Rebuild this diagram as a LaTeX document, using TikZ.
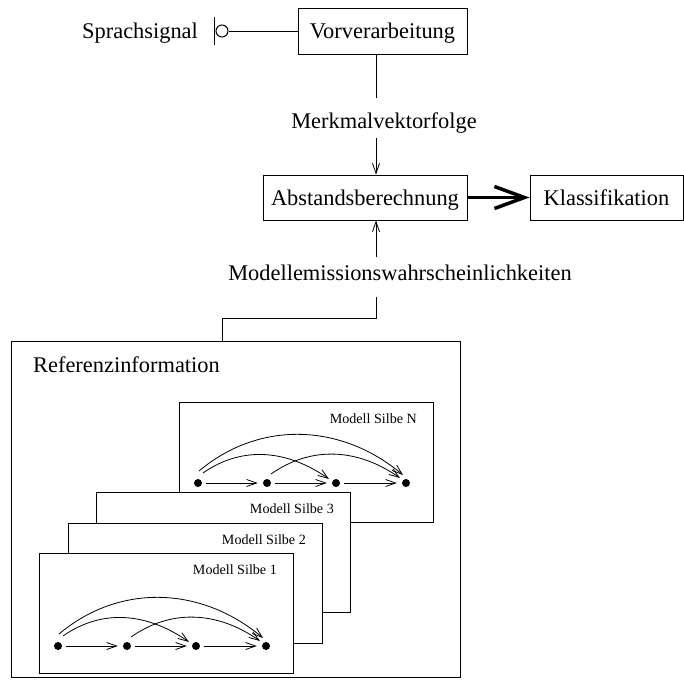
\documentclass[tikz,border=0pt]{standalone}
\usepackage{fontspec}
\setmainfont{Liberation Serif}
\usetikzlibrary{arrows.meta}
\tikzset{
  big/.style={font=\fontsize{22.4}{26}\selectfont},
  small/.style={font=\fontsize{14.1}{17}\selectfont},
  box/.style={draw, line width=1pt, big, inner sep=0pt, text height=18pt, text depth=3pt},
  mbox/.style={draw, fill=white, line width=1pt, minimum width=254pt, minimum height=120pt, inner sep=0pt},
  dot/.style={circle, fill, inner sep=0pt, minimum size=8pt},
  arr/.style={-{Straight Barb[length=10pt,width=7pt]}, line width=0.8pt},
  conn/.style={line width=1pt},
  fat/.style={-{Straight Barb[length=30pt,width=22pt]}, line width=3.5pt},
  lbl/.style={big, inner sep=0pt},
}
\newcommand{\silbebox}[4]{%
  \begin{scope}[shift={(#2,-#3)}]
    \node[mbox] (#1) at (127,-60) {};
    \node[small, anchor=base east, inner sep=0pt] (#1-l) at (238,-21) {Modell Silbe #4};
  \end{scope}}
\newcommand{\silbekette}[4]{%
  \begin{scope}[shift={(#2,-#3)}]
    \node[dot] (#1-a) at (19,-#4) {};
    \node[dot] (#1-b) at (88,-#4) {};
    \node[dot] (#1-c) at (157,-#4) {};
    \node[dot] (#1-d) at (227,-#4) {};
    \draw[arr, shorten <=4pt, shorten >=5pt] (#1-a) -- (#1-b);
    \draw[arr, shorten <=4pt, shorten >=5pt] (#1-b) -- (#1-c);
    \draw[arr, shorten <=4pt, shorten >=5pt] (#1-c) -- (#1-d);
    \draw[arr] ([shift={(1,12)}]#1-a.center) to[out=40,in=140] ([shift={(-3,8)}]#1-d.center);
    \draw[arr] ([shift={(5,10)}]#1-a.center) to[out=35,in=145] ([shift={(-7,4)}]#1-c.center);
    \draw[arr] ([shift={(4,9)}]#1-b.center) to[out=35,in=145] ([shift={(-6,5)}]#1-d.center);
  \end{scope}}
\begin{document}
\begin{tikzpicture}[x=1pt,y=1pt]
  \useasboundingbox (0,0) rectangle (684,-689);
  % top chain
  \node[lbl, anchor=base west] (sig) at (82,-38) {Sprachsignal};
  \draw[conn] (214,-17) -- (214,-45);
  \node[circle, draw, line width=1pt, minimum size=12pt, inner sep=0pt] (c) at (222,-31) {};
  \node[box, minimum width=169pt, minimum height=46pt] (vor) at (382.5,-31) {Vorverarbeitung};
  \draw[conn] (c) -- (vor);
  \coordinate (lx) at (376,0);
  \node[lbl, anchor=base, text height=30pt, text depth=10pt] (mk) at (384,-128) {Merkmalvektorfolge};
  \node[box, minimum width=204pt, minimum height=45pt] (abst) at (365,-197.5) {Abstandsberechnung};
  \node[box, minimum width=153pt, minimum height=45pt] (klass) at (606.5,-197.5) {Klassifikation};
  \draw[conn] (vor.south -| lx) -- (mk.north -| lx);
  \draw[arr] (mk.south -| lx) -- (abst.north -| lx);
  \draw[fat] (abst) -- (klass);
  \node[lbl, anchor=base, text height=23pt, text depth=17pt] (mw) at (400,-280) {Modellemissionswahrscheinlichkeiten};
  \draw[arr] (mw.north -| lx) -- (abst.south -| lx);
  % reference info
  \node[draw, line width=1pt, minimum width=449pt, minimum height=336pt, inner sep=0pt] (ref) at (235.5,-509) {};
  \coordinate (bend) at (222,-318);
  \draw[conn] (mw.south -| lx) |- (bend) -- (ref.north -| bend);
  \node[lbl, anchor=base west] (refl) at (33,-372) {Referenzinformation};
  \silbebox{mN}{179}{402}{N}
  \silbekette{mN}{179}{402}{81}
  \silbebox{m3}{96}{492}{3}
  \silbebox{m2}{68}{523}{2}
  \silbebox{m1}{39}{553}{1}
  \silbekette{m1}{39}{553}{93}
\end{tikzpicture}
\end{document}
